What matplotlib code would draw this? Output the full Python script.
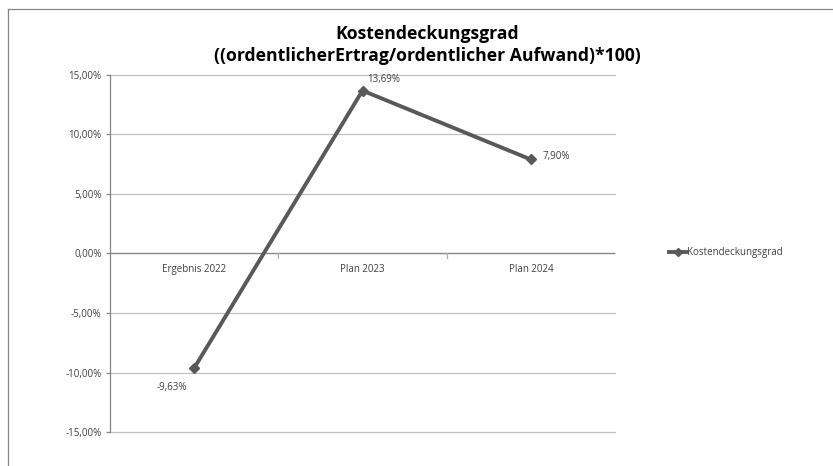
import matplotlib.pyplot as plt
from matplotlib.ticker import FuncFormatter, FixedLocator
from matplotlib.lines import Line2D

plt.rcParams['font.family'] = ['Open Sans', 'DejaVu Sans']

categories = ['Ergebnis 2022', 'Plan 2023', 'Plan 2024']
values = [-9.63, 13.69, 7.90]
series_name = 'Kostendeckungsgrad'
title = 'Kostendeckungsgrad\n((ordentlicherErtrag/ordentlicher Aufwand)*100)'

def pct(v, pos=None):
    return f'{v:.2f}%'.replace('.', ',')

fig = plt.figure(figsize=(8.33, 4.66), dpi=100)
W, H = 833, 466
ax = fig.add_axes([110 / W, 1 - 432 / H, 505 / W, 357 / H])

x = list(range(len(categories)))
line_col = '#595959'
ax.plot(x, values, color=line_col, lw=2.8, marker='D', ms=5.5,
        markerfacecolor=line_col, markeredgecolor=line_col, zorder=3)

ax.set_xlim(-0.5, 2.5)
ax.set_ylim(-15, 15)
ax.yaxis.set_major_locator(FixedLocator([-15, -10, -5, 0, 5, 10, 15]))
ax.yaxis.set_major_formatter(FuncFormatter(pct))
ax.grid(axis='y', color='#c0c0c0', lw=0.9)
ax.set_axisbelow(True)
for gl in ax.get_ygridlines():
    gl.set_clip_on(False)

for s in ['top', 'right', 'bottom']:
    ax.spines[s].set_visible(False)
ax.spines['left'].set_color('#868686')
ax.spines['left'].set_linewidth(0.9)
ax.axhline(0, color='#868686', lw=0.9, zorder=2)

ax.tick_params(axis='y', labelsize=7, colors='#868686', labelcolor='#404040',
               length=3, width=0.9, pad=3)
ax.set_xticks([])
for i, c in enumerate(categories):
    ax.text(i, -0.9, c, ha='center', va='top', fontsize=7, color='#404040')
for b in [0.5, 1.5]:
    ax.plot([b, b], [0, -0.35], color='#b0b0b0', lw=0.9, zorder=2)

offsets = [(-16, -14), (15, 8), (18, 2)]
for xi, v, off in zip(x, values, offsets):
    ax.annotate(pct(v), (xi, v), xytext=off, textcoords='offset points',
                ha='center', va='center', fontsize=7, color='#404040')

fig.text(427 / W, 1 - 45 / H, title, ha='center', va='center', fontsize=12.7,
         fontweight='bold', linespacing=1.35)

handle = Line2D([], [], color=line_col, lw=2.8, marker='D', ms=4)
fig.legend([handle], [series_name], loc='center left',
           bbox_to_anchor=(660 / W, 1 - 253 / H), frameon=False,
           fontsize=7, handlelength=1.8, handletextpad=0.05,
           labelcolor='#404040')

# chart frame
fig.add_artist(Line2D([8 / W, 1], [1 - 9 / H, 1 - 9 / H], color='#868686', lw=0.9))
fig.add_artist(Line2D([8 / W, 8 / W], [0, 1 - 9 / H], color='#868686', lw=0.9))

fig.savefig('out.png', dpi=100)
